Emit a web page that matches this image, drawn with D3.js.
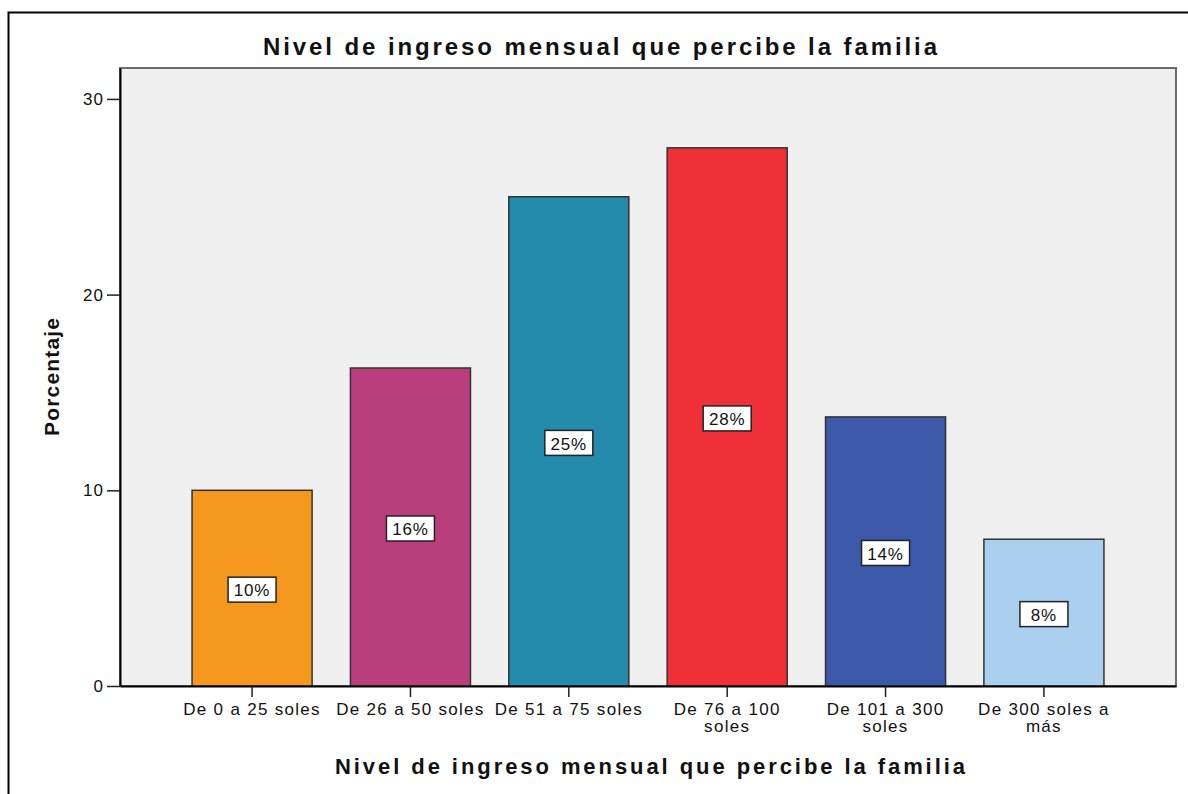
<!DOCTYPE html>
<html>
<head>
<meta charset="utf-8">
<script src="https://cdn.jsdelivr.net/npm/d3@7"></script>
<style>
  body { margin: 0; background: #fff; }
  text { font-family: "Liberation Sans", Arial, sans-serif; fill: #111; }
</style>
</head>
<body>
<div id="chart"></div>
<script>
// data
const categories = ["De 0 a 25 soles", "De 26 a 50 soles", "De 51 a 75 soles",
  "De 76 a 100 soles", "De 101 a 300 soles", "De 300 soles a más"];
const tickLines = [["De 0 a 25 soles"], ["De 26 a 50 soles"], ["De 51 a 75 soles"],
  ["De 76 a 100", "soles"], ["De 101 a 300", "soles"], ["De 300 soles a", "más"]];
const percents = [10.0, 16.25, 25.0, 27.5, 13.75, 7.5];
const barLabels = ["10%", "16%", "25%", "28%", "14%", "8%"];
const yTicks = [0, 10, 20, 30];
const colors = ["#F7981E", "#BA3E7C", "#248BAD", "#EF3038", "#3C58A8", "#ABCFEE"];

const width = 1188, height = 794;
const plot = { left: 120, right: 1176, top: 68, bottom: 686 };

const svg = d3.select("#chart").append("svg")
  .attr("width", width)
  .attr("height", height);

// outer frame (only left and top visible)
svg.append("rect")
  .attr("x", 8.5).attr("y", 12.5)
  .attr("width", 1200).attr("height", 800)
  .attr("fill", "none")
  .attr("stroke", "#000")
  .attr("stroke-width", 2);

// title
svg.append("text")
  .attr("x", 600).attr("y", 55)
  .attr("text-anchor", "middle")
  .attr("font-size", 24)
  .attr("font-weight", "bold")
  .attr("textLength", 674)
  .attr("lengthAdjust", "spacing")
  .text("Nivel de ingreso mensual que percibe la familia");

// scales
const x = d3.scaleBand()
  .domain(categories)
  .range([plot.left, plot.right])
  .paddingInner(0.242)
  .paddingOuter(0.455);

const y = d3.scaleLinear()
  .domain([0, 31.58])
  .range([plot.bottom, plot.top]);

// plot background
svg.append("rect")
  .attr("x", plot.left).attr("y", plot.top)
  .attr("width", plot.right - plot.left)
  .attr("height", plot.bottom - plot.top)
  .attr("fill", "#F0F0F0")
  .attr("stroke", "#6b6b6b")
  .attr("stroke-width", 2);

// bars
svg.selectAll(".bar")
  .data(percents)
  .enter()
  .append("rect")
  .attr("class", "bar")
  .attr("x", (d, i) => x(categories[i]))
  .attr("y", d => y(d))
  .attr("width", x.bandwidth())
  .attr("height", d => y(0) - y(d))
  .attr("fill", (d, i) => colors[i])
  .attr("stroke", "#333")
  .attr("stroke-width", 1.5);

// value labels in boxes
const labels = svg.selectAll(".lbl")
  .data(percents)
  .enter()
  .append("g")
  .attr("class", "lbl")
  .attr("transform", (d, i) =>
    `translate(${x(categories[i]) + x.bandwidth() / 2},${(y(d) + y(0)) / 2 + 2})`);

labels.append("rect")
  .attr("x", -24).attr("y", -13)
  .attr("width", 48).attr("height", 25)
  .attr("fill", "#fff")
  .attr("stroke", "#222")
  .attr("stroke-width", 1.5);

labels.append("text")
  .attr("text-anchor", "middle")
  .attr("dy", "0.36em")
  .attr("font-size", 17)
  .attr("letter-spacing", 0.8)
  .text((d, i) => barLabels[i]);

// y axis
const yAxis = svg.append("g")
  .attr("transform", `translate(${plot.left},0)`)
  .call(d3.axisLeft(y).tickValues(yTicks).tickSize(13).tickSizeOuter(0)
    .tickPadding(3).tickFormat(d3.format("d")));
yAxis.select(".domain").attr("stroke", "#000").attr("stroke-width", 2);
yAxis.selectAll(".tick line").attr("stroke", "#222").attr("stroke-width", 1.5);
yAxis.selectAll(".tick text")
  .attr("font-size", 17)
  .attr("letter-spacing", 1)
  .attr("fill", "#111")
  .style("font-family", "Liberation Sans, Arial, sans-serif");

// x axis
const xAxis = svg.append("g")
  .attr("transform", `translate(0,${plot.bottom})`)
  .call(d3.axisBottom(x).tickSize(11).tickSizeOuter(0).tickFormat(""));
xAxis.select(".domain").attr("stroke", "#000").attr("stroke-width", 2);
xAxis.selectAll(".tick line").attr("stroke", "#222").attr("stroke-width", 1.5);

xAxis.selectAll(".tick").each(function (d, i) {
  const t = d3.select(this).select("text")
    .attr("y", null)
    .attr("dy", null)
    .attr("font-size", 17)
    .attr("letter-spacing", 1.3)
    .attr("fill", "#111")
    .style("font-family", "Liberation Sans, Arial, sans-serif");
  t.selectAll("tspan")
    .data(tickLines[i])
    .enter()
    .append("tspan")
    .attr("x", 0)
    .attr("y", (l, j) => 29 + j * 17)
    .text(l => l);
});

// axis titles
svg.append("text")
  .attr("x", 650).attr("y", 774)
  .attr("text-anchor", "middle")
  .attr("font-size", 22)
  .attr("font-weight", "bold")
  .attr("textLength", 630)
  .attr("lengthAdjust", "spacing")
  .text("Nivel de ingreso mensual que percibe la familia");

svg.append("text")
  .attr("transform", "translate(59,377) rotate(-90)")
  .attr("text-anchor", "middle")
  .attr("font-size", 21)
  .attr("font-weight", "bold")
  .attr("textLength", 118)
  .attr("lengthAdjust", "spacing")
  .text("Porcentaje");
</script>
</body>
</html>
